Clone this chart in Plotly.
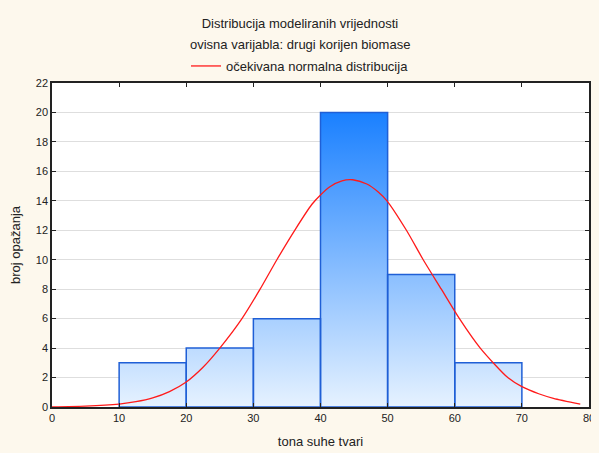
import plotly.graph_objects as go

# Histogram data
bin_left = [10, 20, 30, 40, 50, 60]
bin_right = [20, 30, 40, 50, 60, 70]
counts = [3, 4, 6, 20, 9, 3]

# Expected normal curve
curve_x = [0, 5, 10, 12.5, 15, 17.5, 20, 22.5, 25, 28.3, 31, 33.5, 36.3, 38.7, 40.0, 41.4, 43.2, 44.8,
           46.9, 48.6, 49.9, 52.8, 55.3, 58.0, 60.7, 63.8, 67.9, 70, 72.5, 74.7, 78.7]
curve_y = [0.01, 0.06, 0.2, 0.36, 0.62, 1.05, 1.7, 2.7, 4.0, 6.0, 8.0, 10.0, 12.1, 13.75, 14.4, 14.96, 15.36, 15.43,
           15.14, 14.6, 14.0, 12.0, 10.0, 8.0, 6.0, 4.0, 2.0, 1.38, 0.9, 0.59, 0.2]

x_ticks = [0, 10, 20, 30, 40, 50, 60, 70, 80]
y_ticks = list(range(0, 23, 2))

FONT = "Arial, Liberation Sans, sans-serif"
BG = "#fdf8ed"
OFF = 8  # default page body margin
W, H = 599 - OFF, 453 - OFF
L, R, T, B = 52 - OFF, 10, 83 - OFF, 46
PH = H - T - B
PW = W - L - R
CX = 300 - OFF  # horizontal centre of the header texts (div coords)

# Build bar rectangles for gradient-filled scatter
rx, ry = [], []
for l, r, c in zip(bin_left, bin_right, counts):
    rx += [l, l, r, r, l, None]
    ry += [0, c, c, 0, 0, None]

fig = go.Figure()
fig.add_trace(go.Scatter(
    x=rx, y=ry, mode="lines", fill="toself",
    line=dict(color="#1f5fd6", width=1.5),
    fillgradient=dict(type="vertical", start=0, stop=max(counts),
                      colorscale=[[0, "#e6f2ff"], [1, "#1a80ff"]]),
    showlegend=False, hoverinfo="skip"))

fig.add_trace(go.Scatter(
    x=curve_x, y=curve_y, mode="lines",
    line=dict(color="#ff1a1a", width=1.3, shape="spline", smoothing=0.7),
    name="očekivana normalna distribucija"))

fig.update_layout(
    width=W, height=H,
    margin=dict(l=L, r=R, t=T, b=B),
    paper_bgcolor=BG, plot_bgcolor="#ffffff",
    font=dict(family=FONT, size=11, color="#222222"),
    title=dict(text="Distribucija modeliranih vrijednosti", xref="container", x=CX / W, xanchor="center",
               yref="container", y=1 - (23 - OFF) / H, yanchor="middle", font=dict(size=13, color="#222222")),
    annotations=[dict(text="ovisna varijabla: drugi korijen biomase", xref="paper", yref="paper",
                      x=(CX - L) / PW, y=(H - B - (45 - OFF)) / PH, xanchor="center", yanchor="middle",
                      showarrow=False, font=dict(size=13, color="#222222"))],
    legend=dict(orientation="h", xref="container", yref="container", x=CX / W, xanchor="center",
                y=1 - (66 - OFF) / H, yanchor="middle", itemwidth=30,
                bgcolor="rgba(0,0,0,0)", font=dict(size=13, color="#222222")),
    showlegend=True,
)
fig.update_xaxes(range=[0, 80], tickvals=x_ticks, showgrid=False, zeroline=False, automargin=False,
                 showline=True, linecolor="#222222", linewidth=1.5, mirror="allticks",
                 ticks="inside", ticklen=4, tickcolor="#222222", ticklabeloverflow="allow",
                 title=dict(text="tona suhe tvari", standoff=14, font=dict(size=13)))
fig.update_yaxes(range=[0, 22], tickvals=y_ticks, showgrid=True, gridcolor="#dedede", gridwidth=1,
                 zeroline=False, showline=True, linecolor="#222222", linewidth=1.5, mirror="allticks",
                 automargin=False, ticks="inside", ticklen=4, tickcolor="#222222",
                 title=dict(text="broj opažanja", standoff=12, font=dict(size=13)))

fig.write_html("out.html", config={"displayModeBar": False},
               post_script=f"document.body.style.background='{BG}';")
